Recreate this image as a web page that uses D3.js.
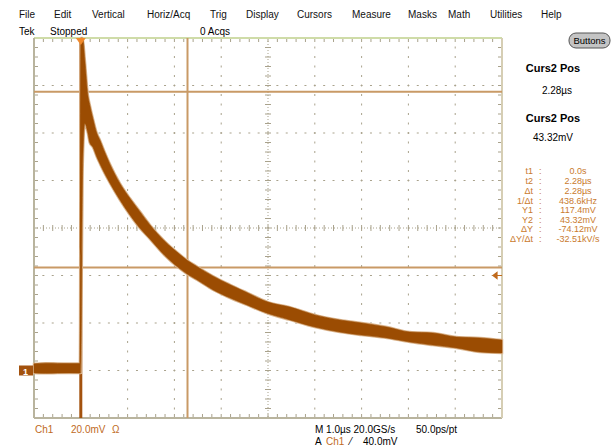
<!DOCTYPE html>
<html><head><meta charset="utf-8">
<script src="https://cdn.jsdelivr.net/npm/d3@7"></script>
<style>body{margin:0;background:#fff}svg{display:block;font-family:"Liberation Sans",Arial,sans-serif}</style>
</head><body><svg id="c" width="614" height="446"></svg>
<script>
// ---- data (time in µs, voltage in mV) ----
const timeUs = [-1.0,-0.75,-0.5,-0.25,-0.02,0.0,0.04,0.085,0.15,0.19,0.26,0.34,0.41,0.51,0.62,0.83,1.05,1.26,1.47,1.79,2.12,2.28,2.48,2.82,3.18,3.55,4.0,4.47,5.0,5.53,6.0,6.54,7.03,7.52,8.03,8.53,9.0];
const vMax   = [2.8,3.1,3.0,2.9,2.9,142,142,131,116,112,106,100,97,92,87,79,72.5,67,61.5,54.5,48.8,46.3,43.8,39.8,36.2,32.8,28.8,26.7,23.4,21.3,20.0,18.3,16.2,15.8,14.1,13.7,12.8];
const vMin   = [-1.0,-1.2,-1.1,-1.0,-1.1,-1.0,85,104,100,96,94,90,87,83,79,72,65.5,60,55.5,48.5,42.8,40.5,38.2,34.0,30.6,27.6,24.0,21.3,18.3,16.2,14.9,13.7,12.0,10.7,9.5,7.8,7.4];
const menuItems = ["File","Edit","Vertical","Horiz/Acq","Trig","Display","Cursors","Measure","Masks","Math","Utilities","Help"];
const menuX = [19,54,92,147,210,246,297,352,408,448,490,541];
const readLabels = ["t1","t2","\u0394t","1/\u0394t","Y1","Y2","\u0394Y","\u0394Y/\u0394t"];
const readValues = ["0.0s","2.28\u00b5s","2.28\u00b5s","438.6kHz","117.4mV","43.32mV","-74.12mV","-32.51kV/s"];
const cursorT = [0.0, 2.28];      // µs
const cursorV = [117.4, 43.32];   // mV
const trigLevel = 40.0;           // mV
const timeDomain = [-1, 9];       // 10 divisions, 1.0 µs/div
const voltDomain = [-20, 140];    // 8 divisions, 20 mV/div

const svg = d3.select("#c");
const L=34,R=502,T=38,B=418;
const x = d3.scaleLinear().domain(timeDomain).range([L,R]);
const y = d3.scaleLinear().domain(voltDomain).range([B,T]);
const gridCol="#a9a28c";

const g = svg.append("g");
const xDivs = d3.range(timeDomain[0], timeDomain[1]+0.001, 1);
const yDivs = d3.range(voltDomain[0], voltDomain[1]+0.001, 20);
const xMinor = d3.range(timeDomain[0], timeDomain[1]+0.001, 0.2);
const yMinor = d3.range(voltDomain[0], voltDomain[1]+0.001, 4);
xDivs.slice(1,-1).forEach(t=>{ if(t===4) return;
  yMinor.slice(1,-1).forEach(v=>g.append("rect").attr("x",x(t)-0.5).attr("y",y(v)-1).attr("width",1).attr("height",2).attr("fill",gridCol));
});
yDivs.slice(1,-1).forEach(v=>{ if(v===60) return;
  xMinor.slice(1,-1).forEach(t=>g.append("rect").attr("x",x(t)-1).attr("y",y(v)-0.5).attr("width",2).attr("height",1).attr("fill",gridCol));
});
g.append("line").attr("x1",x(4)).attr("x2",x(4)).attr("y1",T).attr("y2",B).attr("stroke",gridCol).attr("stroke-dasharray","1 2");
g.append("line").attr("x1",L).attr("x2",R).attr("y1",y(60)).attr("y2",y(60)).attr("stroke",gridCol).attr("stroke-dasharray","1 2");
yMinor.forEach(v=>g.append("line").attr("x1",x(4)-3).attr("x2",x(4)+3).attr("y1",y(v)).attr("y2",y(v)).attr("stroke",gridCol));
xMinor.forEach(t=>g.append("line").attr("x1",x(t)).attr("x2",x(t)).attr("y1",y(60)-3).attr("y2",y(60)+3).attr("stroke",gridCol));
xMinor.forEach(t=>{
  g.append("line").attr("x1",x(t)).attr("x2",x(t)).attr("y1",T).attr("y2",T+4).attr("stroke",gridCol);
  g.append("line").attr("x1",x(t)).attr("x2",x(t)).attr("y1",B).attr("y2",B-4).attr("stroke",gridCol);
});
yMinor.forEach(v=>{
  g.append("line").attr("x1",L).attr("x2",L+4).attr("y1",y(v)).attr("y2",y(v)).attr("stroke",gridCol);
  g.append("line").attr("x1",R).attr("x2",R-4).attr("y1",y(v)).attr("y2",y(v)).attr("stroke",gridCol);
});
g.append("line").attr("x1",L).attr("x2",R).attr("y1",T).attr("y2",T).attr("stroke","#cfdca8").attr("stroke-width",2);
g.append("line").attr("x1",L).attr("x2",R).attr("y1",B).attr("y2",B).attr("stroke","#b9b49e").attr("stroke-width",2);
g.append("line").attr("x1",L).attr("x2",L).attr("y1",T).attr("y2",B).attr("stroke","#b9b49e").attr("stroke-width",2);
g.append("line").attr("x1",R).attr("x2",R).attr("y1",T).attr("y2",B).attr("stroke","#d6ceb4").attr("stroke-width",2);

const curCol="#c99a66";
cursorV.forEach(v=>svg.append("line").attr("x1",L).attr("x2",R).attr("y1",y(v)).attr("y2",y(v)).attr("stroke",curCol).attr("stroke-width",2));
svg.append("line").attr("x1",x(cursorT[1])).attr("x2",x(cursorT[1])).attr("y1",T).attr("y2",B).attr("stroke",curCol).attr("stroke-width",2);
svg.append("line").attr("x1",x(cursorT[0])).attr("x2",x(cursorT[0])).attr("y1",T).attr("y2",B).attr("stroke","#a3520e").attr("stroke-width",3);

const data = timeUs.map((t,i)=>({t,hi:Math.min(vMax[i],voltDomain[1]),lo:vMin[i]}));
const area = d3.area().x(d=>x(d.t)).y0(d=>y(d.lo)).y1(d=>y(d.hi)).curve(d3.curveMonotoneX);
svg.append("path").datum(data).attr("d",area).attr("fill","#d9b28a").attr("stroke","#dcb892").attr("stroke-width",2.5);
svg.append("path").datum(data).attr("d",area).attr("fill","#9b4c02").attr("stroke","#9b4c02").attr("stroke-width",0.6);

svg.append("path").attr("d",`M${x(0)-5},${T} L${x(0)+5},${T} L${x(0)},${T+7} Z`).attr("fill","#f08a2c");
svg.append("rect").attr("x",19).attr("y",y(0)-5).attr("width",14).attr("height",10).attr("fill","#a3520e");
svg.append("text").attr("x",23).attr("y",y(0)+4).attr("font-size",9).attr("fill","#fff").attr("font-weight","bold").text("1");
svg.append("path").attr("d",`M${R-9},${y(trigLevel)} L${R-5},${y(trigLevel)-3} L${R-5},${y(trigLevel)+3} Z M${R-6},${y(trigLevel)} L${R},${y(trigLevel)}`).attr("fill","#c06a1c").attr("stroke","#c06a1c").attr("stroke-width",1.2);

svg.selectAll(".menu").data(menuItems).enter().append("text").attr("x",(d,i)=>menuX[i]).attr("y",18).attr("font-size",10).attr("fill","#111").text(d=>d);
svg.append("text").attr("x",19).attr("y",35).attr("font-size",10).text("Tek");
svg.append("text").attr("x",50).attr("y",35).attr("font-size",10).text("Stopped");
svg.append("text").attr("x",200).attr("y",35).attr("font-size",10).text("0 Acqs");
svg.append("rect").attr("x",569).attr("y",33).attr("width",41).attr("height",15).attr("rx",7).attr("fill","#c4c4c4").attr("stroke","#555");
svg.append("text").attr("x",589.5).attr("y",44).attr("text-anchor","middle").attr("font-size",9.5).text("Buttons");

const rp = svg.append("g").attr("text-anchor","middle");
rp.append("text").attr("x",553).attr("y",72).attr("font-size",11).attr("font-weight","bold").text("Curs2 Pos");
rp.append("text").attr("x",557).attr("y",94).attr("font-size",10).text(readValues[1]);
rp.append("text").attr("x",553).attr("y",122).attr("font-size",11).attr("font-weight","bold").text("Curs2 Pos");
rp.append("text").attr("x",553).attr("y",141).attr("font-size",10).text(readValues[5]);
const rowY=[174,184,194,204,213,223,232,242];
const oc="#c97a2e";
readLabels.forEach((l,i)=>{
  svg.append("text").attr("x",533).attr("y",rowY[i]).attr("text-anchor","end").attr("font-size",9).attr("fill",oc).text(l);
  svg.append("text").attr("x",539).attr("y",rowY[i]).attr("font-size",9).attr("fill",oc).text(":");
  svg.append("text").attr("x",578).attr("y",rowY[i]).attr("text-anchor","middle").attr("font-size",9).attr("fill",oc).text(readValues[i]);
});

const bc="#c06a1c";
svg.append("text").attr("x",35).attr("y",433).attr("font-size",10).attr("fill",bc).text("Ch1");
svg.append("text").attr("x",71).attr("y",433).attr("font-size",10).attr("fill",bc).text("20.0mV");
svg.append("text").attr("x",112).attr("y",433).attr("font-size",10).attr("fill",bc).text("\u03a9");
svg.append("text").attr("x",315).attr("y",433).attr("font-size",10).text("M 1.0\u00b5s 20.0GS/s");
svg.append("text").attr("x",416).attr("y",433).attr("font-size",10).text("50.0ps/pt");
svg.append("text").attr("x",315).attr("y",445).attr("font-size",10).text("A");
svg.append("text").attr("x",326).attr("y",445).attr("font-size",10).attr("fill",bc).text("Ch1");
svg.append("text").attr("x",350).attr("y",445).attr("font-size",10).text("\u2044");
svg.append("text").attr("x",363).attr("y",445).attr("font-size",10).text("40.0mV");
</script></body></html>
